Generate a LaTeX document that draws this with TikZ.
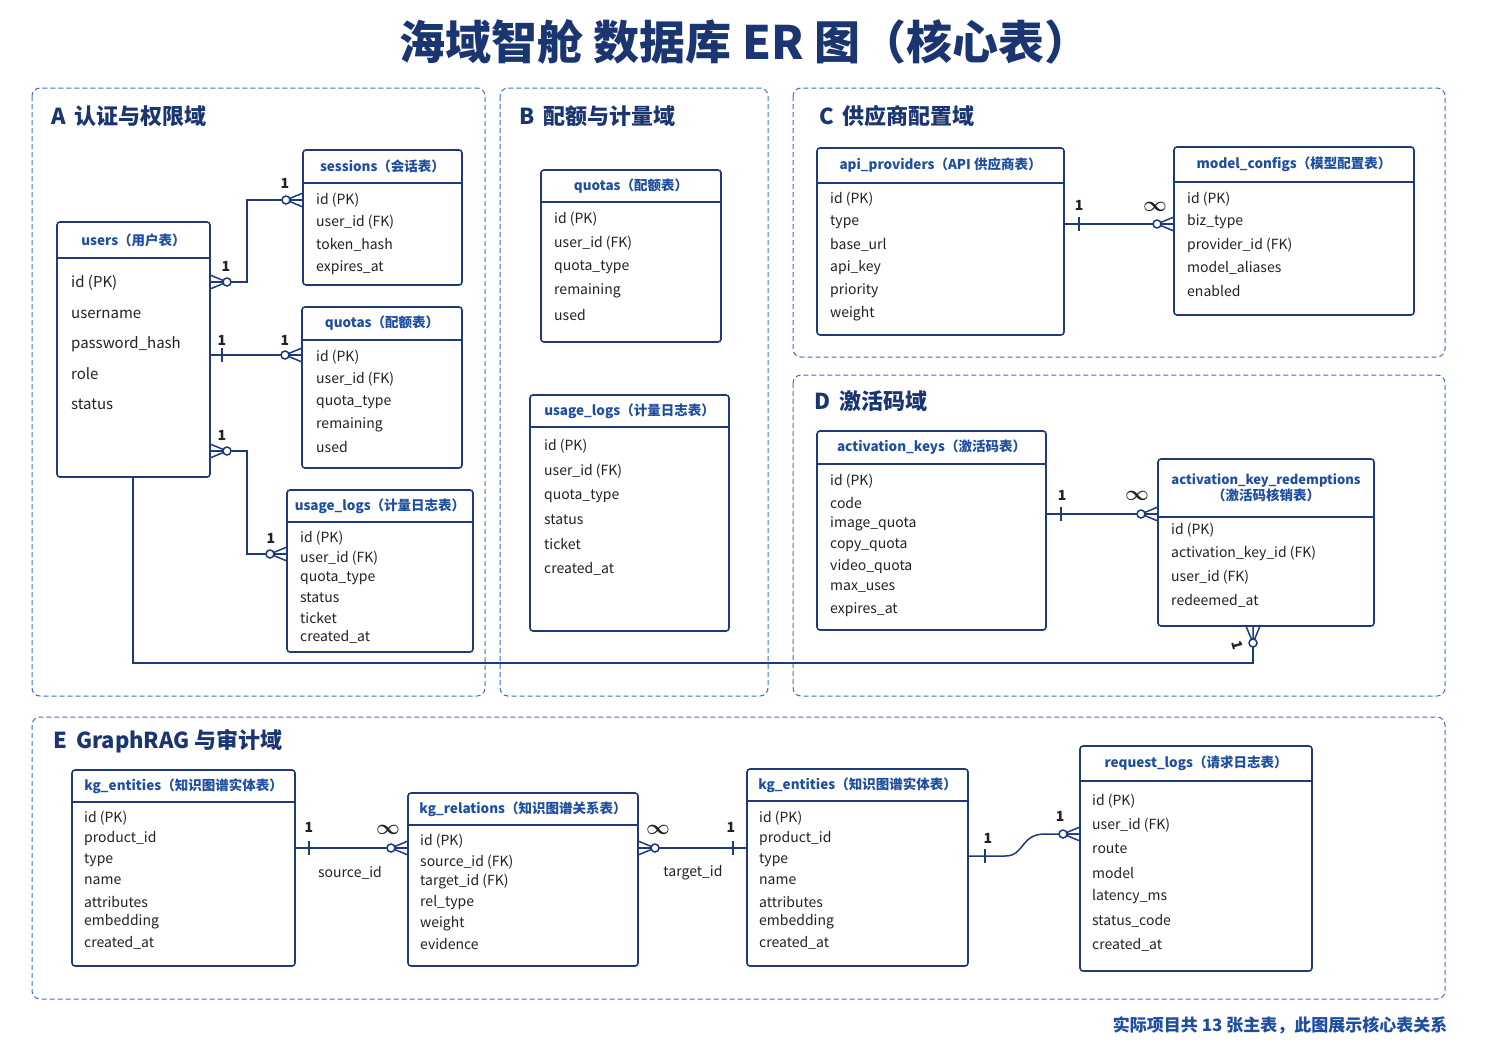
\documentclass[tikz,border=0pt]{standalone}
\usepackage{fontspec}
\setmainfont{Noto Sans CJK SC}
\definecolor{nav}{HTML}{1F3A7A}
\definecolor{hb}{HTML}{1F4E9E}
\definecolor{dom}{HTML}{3D6FC4}
\definecolor{tt}{HTML}{1A3570}
\definecolor{tx}{HTML}{222222}
\tikzset{
 tbox/.style={draw=nav,line width=1.6pt,rounded corners=3pt,fill=white,inner sep=0},
 tline/.style={draw=nav,line width=1.1pt},
 hdr/.style={text=hb,font=\fontsize{13.5}{16}\selectfont\bfseries,align=center},
 fld/.style={text=tx,font=\fontsize{14}{16}\selectfont,anchor=west,inner sep=0},
 domn/.style={draw=dom,dash pattern=on 5pt off 3pt,line width=1pt,rounded corners=8pt},
 dtit/.style={text=tt,font=\fontsize{22}{26}\selectfont\bfseries,anchor=west},
 rel/.style={draw=nav,line width=1.5pt},
 card/.style={text=tx,font=\fontsize{14}{16}\selectfont\bfseries},
 inf/.style={text=tx,font=\fontsize{22}{22}\selectfont\boldmath},
 lbl/.style={text=tx,font=\fontsize{14}{16}\selectfont}
}
\newcommand\tbl[7]{%
 \node[tbox,minimum width={(#4-#2)*1pt},minimum height={(#5-#3)*1pt}] (#1) at ({(#2+#4)/2},{(#3+#5)/2}) {};
 \draw[tline] (#2,#6) -- (#4,#6);
 \node[hdr] (#1h) at ({(#2+#4)/2},{(#3+#6)/2}) {#7};}
\newcommand\crow[3]{\begin{scope}[shift={(#1,#2)},rotate=#3]
 \draw[rel] (17,0)--(0,0) (17,0)--(0,7) (17,0)--(0,-7);
 \draw[rel,fill=white] (17,0) circle (4);\end{scope}}
\newcommand\tick[2]{\draw[rel] (#1,#2-7)--(#1,#2+7);}
\begin{document}
\begin{tikzpicture}[x=1pt,y=-1pt]
\useasboundingbox[fill=white] (0,0) rectangle (1491,1055);
\node[text=tt,font=\fontsize{46}{52}\selectfont\bfseries] (title) at (745,42) {海域智舱 数据库 ER 图（核心表）};
\draw[domn] (32,88) rectangle (485,696);
\draw[domn] (500,88) rectangle (768,696);
\draw[domn] (793,88) rectangle (1445,357);
\draw[domn] (793,375) rectangle (1445,696);
\draw[domn] (32,717) rectangle (1445,999);
\node[dtit] (tA) at (48,116) {A\, 认证与权限域};
\node[dtit] (tB) at (516,116) {B\, 配额与计量域};
\node[dtit] (tC) at (816,116) {C\, 供应商配置域};
\node[dtit] (tD) at (811,401) {D\, 激活码域};
\node[dtit] (tE) at (50,741) {E\, GraphRAG 与审计域};
\draw[rel] (133,477) -- (133,663) -- (1253,663) -- (1253,640);
\tbl{u}{57}{222}{210}{477}{258}{users（用户表）}
\foreach \t/\yy [count=\i] in {id (PK)/283,username/314,password\_hash/344,role/374,status/404}
 \node[fld,font=\fontsize{15}{17}\selectfont] (u-\i) at (71,\yy) {\t};
\tbl{s}{303}{150}{462}{285}{183}{sessions（会话表）}
\foreach \t/\yy [count=\i] in {id (PK)/200,user\_id (FK)/222,token\_hash/245,expires\_at/268}
 \node[fld] (s-\i) at (316,\yy) {\t};
\tbl{qa}{302}{307}{462}{468}{340}{quotas（配额表）}
\foreach \t/\yy [count=\i] in {id (PK)/357,user\_id (FK)/379,quota\_type/402,remaining/425,used/447}
 \node[fld] (qa-\i) at (316,\yy) {\t};
\tbl{la}{287}{490}{473}{652}{522}{usage\_logs（计量日志表）}
\foreach \t/\yy [count=\i] in {id (PK)/538,user\_id (FK)/558,quota\_type/578,status/598,ticket/618,created\_at/637}
 \node[fld] (la-\i) at (300,\yy) {\t};
\tbl{qb}{541}{170}{721}{342}{202}{quotas（配额表）}
\foreach \t/\yy [count=\i] in {id (PK)/219,user\_id (FK)/243,quota\_type/267,remaining/291,used/315}
 \node[fld] (qb-\i) at (554,\yy) {\t};
\tbl{lb}{530}{395}{729}{631}{427}{usage\_logs（计量日志表）}
\foreach \t/\yy [count=\i] in {id (PK)/446,user\_id (FK)/471,quota\_type/496,status/520,ticket/544,created\_at/569}
 \node[fld] (lb-\i) at (544,\yy) {\t};
\tbl{ap}{817}{148}{1064}{335}{183}{api\_providers（API 供应商表）}
\foreach \t/\yy [count=\i] in {id (PK)/199,type/222,base\_url/245,api\_key/268,priority/291,weight/314}
 \node[fld] (ap-\i) at (830,\yy) {\t};
\tbl{mc}{1174}{147}{1414}{315}{182}{model\_configs（模型配置表）}
\foreach \t/\yy [count=\i] in {id (PK)/199,biz\_type/222,provider\_id (FK)/245,model\_aliases/268,enabled/291}
 \node[fld] (mc-\i) at (1187,\yy) {\t};
\tbl{ak}{817}{431}{1046}{630}{464}{activation\_keys（激活码表）}
\foreach \t/\yy [count=\i] in {id (PK)/481,code/503,image\_quota/524,copy\_quota/545,video\_quota/567,max\_uses/588,expires\_at/610}
 \node[fld] (ak-\i) at (830,\yy) {\t};
\tbl{kr}{1158}{459}{1374}{626}{517}{\fontsize{13}{18}\selectfont activation\_key\_redemptions\\（激活码核销表）}
\foreach \t/\yy [count=\i] in {id (PK)/530,activation\_key\_id (FK)/553,user\_id (FK)/577,redeemed\_at/601}
 \node[fld] (kr-\i) at (1171,\yy) {\t};
\tbl{k1}{72}{770}{295}{966}{802}{kg\_entities（知识图谱实体表）}
\foreach \t/\yy [count=\i] in {id (PK)/818,product\_id/839,type/860,name/881,attributes/902,embedding/922,created\_at/943}
 \node[fld] (k1-\i) at (84,\yy) {\t};
\tbl{kl}{408}{793}{638}{966}{825}{kg\_relations（知识图谱关系表）}
\foreach \t/\yy [count=\i] in {id (PK)/841,source\_id (FK)/862,target\_id (FK)/882,rel\_type/903,weight/924,evidence/944}
 \node[fld] (kl-\i) at (420,\yy) {\t};
\tbl{k2}{747}{769}{968}{966}{801}{kg\_entities（知识图谱实体表）}
\foreach \t/\yy [count=\i] in {id (PK)/818,product\_id/839,type/860,name/881,attributes/902,embedding/922,created\_at/943}
 \node[fld] (k2-\i) at (759,\yy) {\t};
\tbl{rq}{1080}{746}{1312}{971}{781}{request\_logs（请求日志表）}
\foreach \t/\yy [count=\i] in {id (PK)/801,user\_id (FK)/825,route/849,model/873,latency\_ms/897,status\_code/921,created\_at/945}
 \node[fld] (rq-\i) at (1092,\yy) {\t};
\draw[rel] (210,282) -- (247,282) -- (247,200) -- (303,200);
\crow{210}{282}{0}\crow{303}{200}{180}
\node[card] (c1) at (226,266) {1}; \node[card] (c2) at (285,183) {1};
\draw[rel] (210,355) -- (302,355); \tick{222}{355}\crow{302}{355}{180}
\node[card] (c3) at (222,340) {1}; \node[card] (c4) at (285,340) {1};
\draw[rel] (210,451) -- (247,451) -- (247,554) -- (287,554);
\crow{210}{451}{0}\crow{287}{554}{180}
\node[card] (c5) at (222,435) {1}; \node[card] (c6) at (271,538) {1};
\crow{1253}{626}{-90}
\node[card,rotate=-75] (c7) at (1237,645) {1};
\draw[rel] (1064,224) -- (1174,224); \tick{1079}{224}\crow{1174}{224}{180}
\node[card] (c8) at (1079,205) {1}; \node[inf] (c9) at (1155,207) {$\infty$};
\draw[rel] (1046,514) -- (1158,514); \tick{1061}{514}\crow{1158}{514}{180}
\node[card] (c10) at (1062,495) {1}; \node[inf] (c11) at (1137,496) {$\infty$};
\draw[rel] (295,848) -- (408,848); \tick{309}{848}\crow{408}{848}{180}
\node[card] (c12) at (309,827) {1}; \node[inf] (c13) at (388,830) {$\infty$};
\node[lbl] (l1) at (350,873) {source\_id};
\draw[rel] (638,848) -- (747,848); \crow{638}{848}{0}\tick{733}{848}
\node[inf] (c14) at (658,830) {$\infty$}; \node[card] (c15) at (731,827) {1};
\node[lbl] (l2) at (693,873) {target\_id};
\draw[rel] (968,856) -- (1005,856) .. controls (1025,856) and (1020,834) .. (1045,834) -- (1080,834);
\tick{985}{856}\crow{1080}{834}{180}
\node[card] (c16) at (988,838) {\textit{1}}; \node[card] (c17) at (1060,816) {1};
\node[text=hb,font=\fontsize{17}{20}\selectfont\bfseries,anchor=east] (foot) at (1451,1025) {实际项目共 13 张主表，此图展示核心表关系};
\end{tikzpicture}
\end{document}
